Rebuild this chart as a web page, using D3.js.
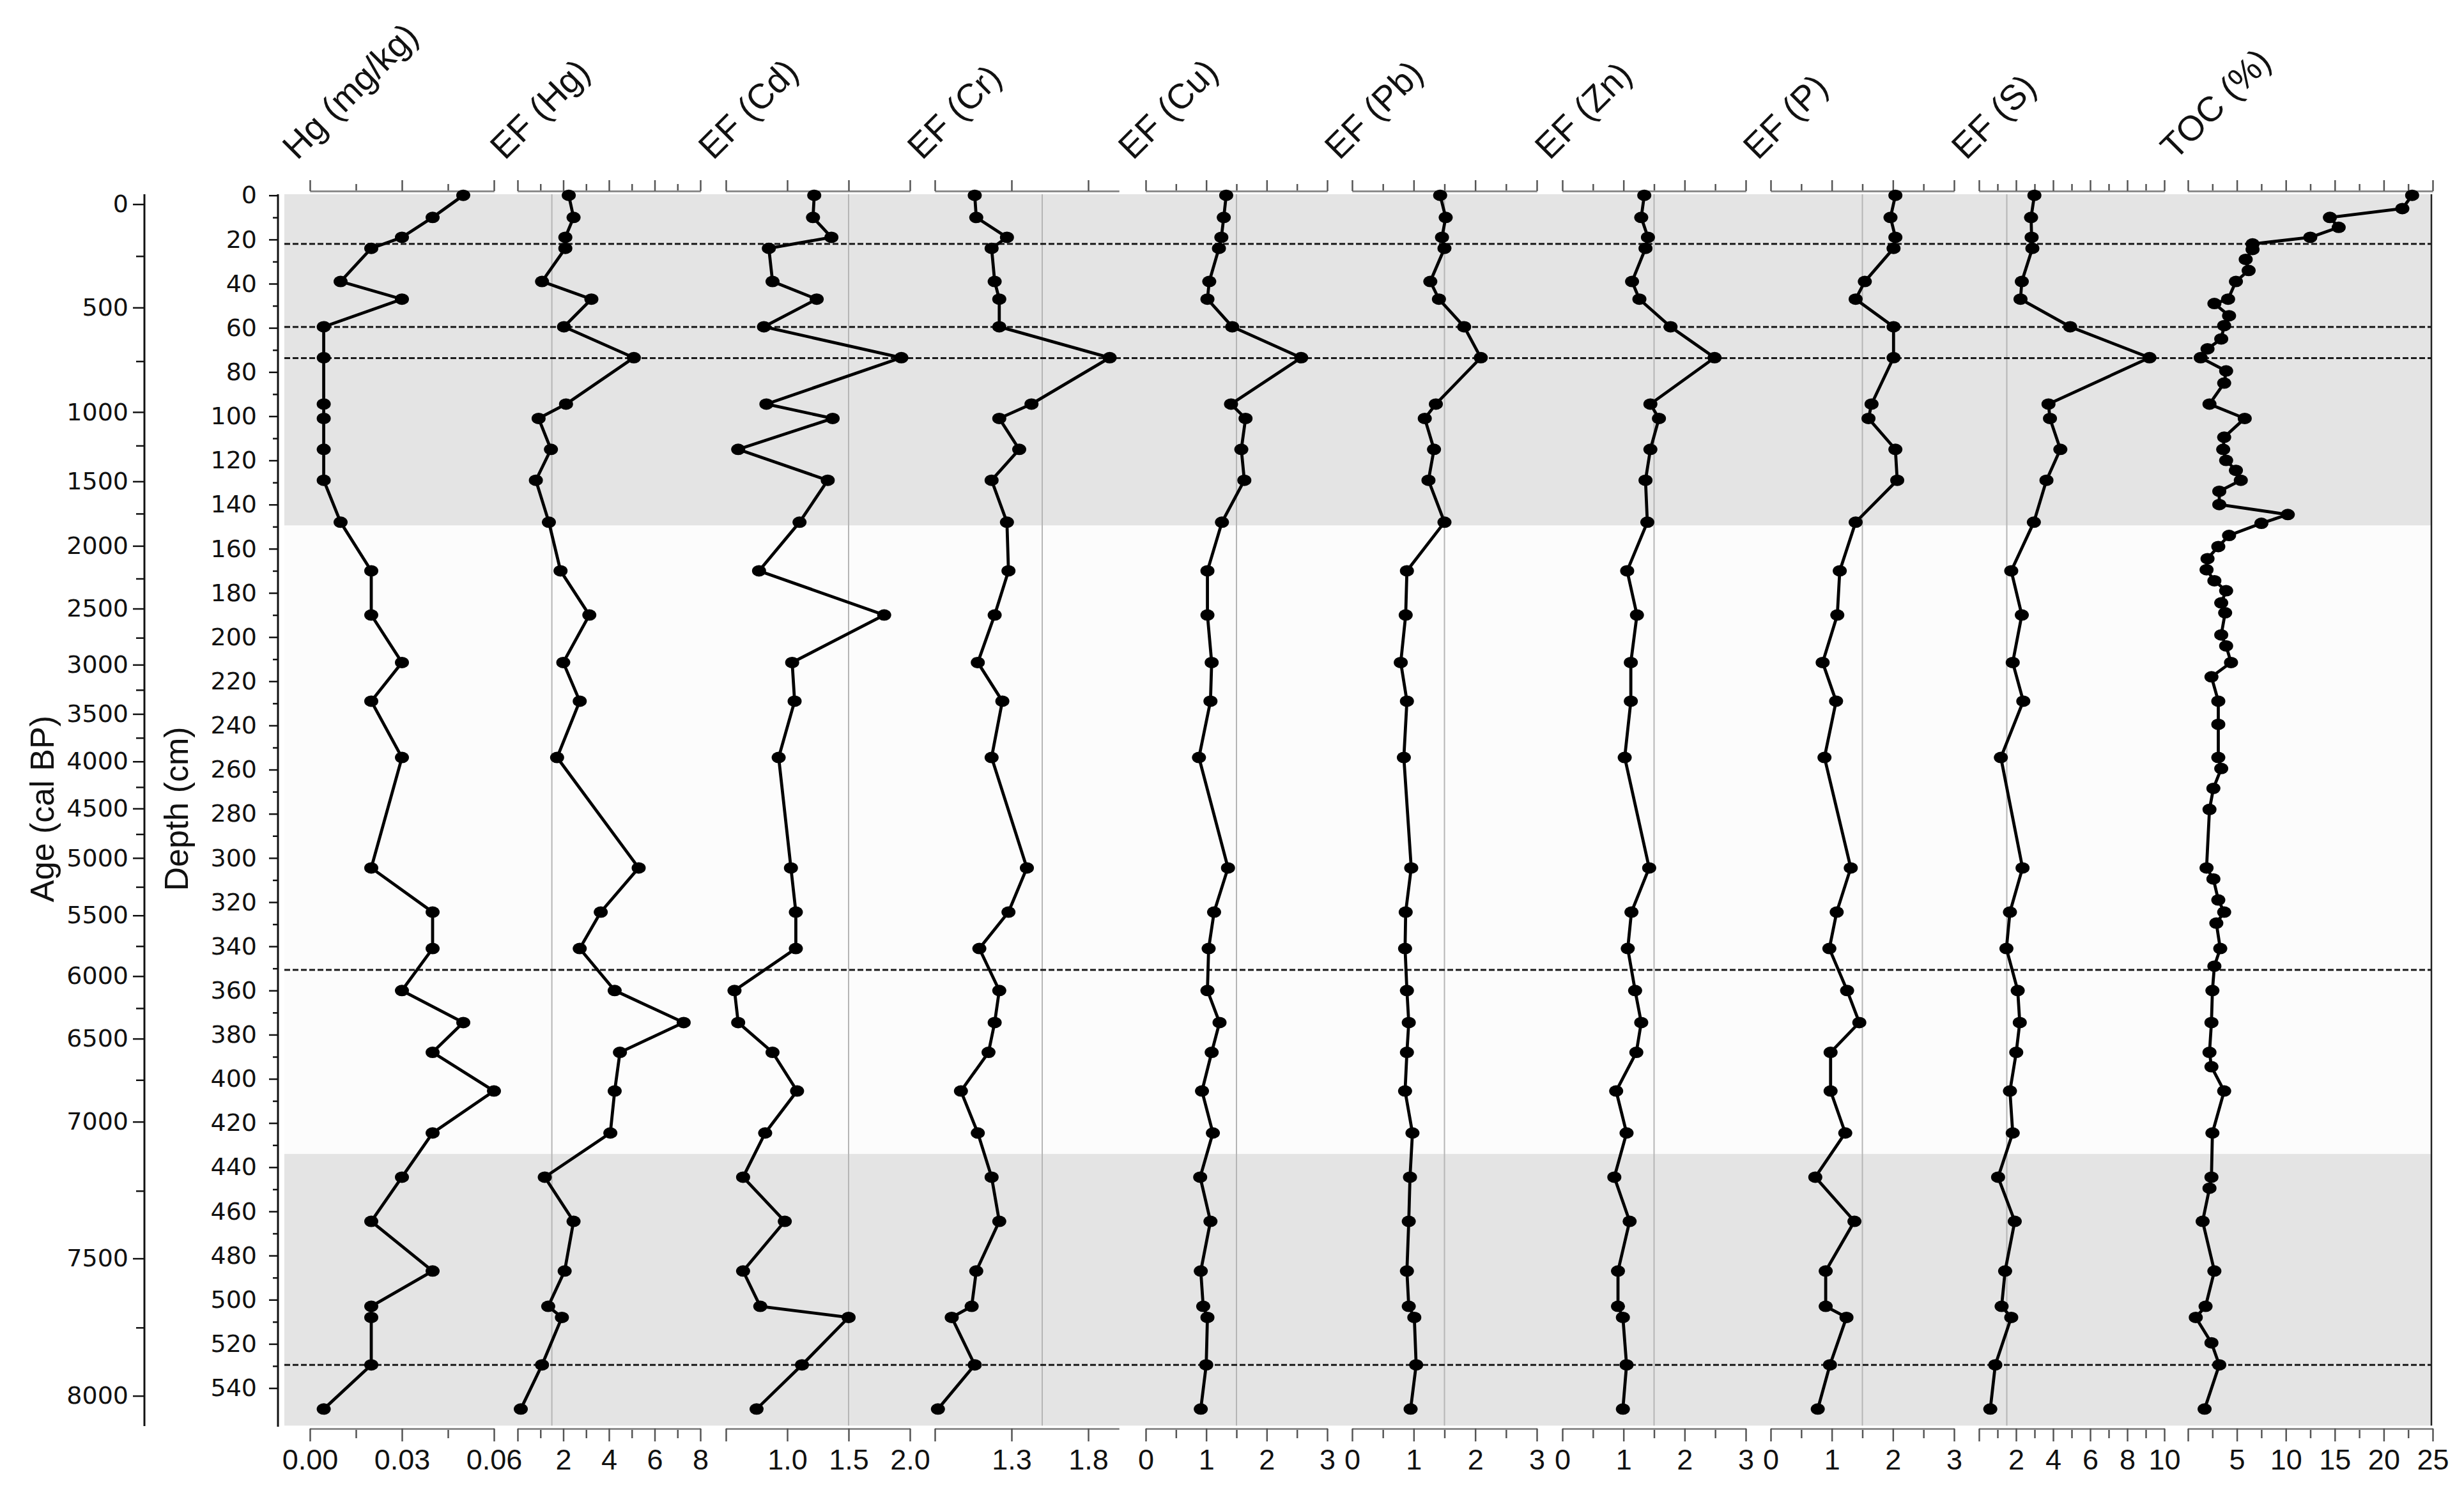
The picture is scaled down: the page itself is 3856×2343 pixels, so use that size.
<!DOCTYPE html>
<html><head><meta charset="utf-8">
<script src="https://cdn.jsdelivr.net/npm/d3@7"></script>
<style>body{margin:0;background:#fff}</style>
</head><body>
<svg id="c" width="3856" height="2343" xmlns="http://www.w3.org/2000/svg"></svg>
<script>
// ---------------- DATA ----------------
const depths = [0,10,19,24,39,47,59.5,73.5,94.5,101,115,129,148,170,190,211.5,229,254.5,304.5,324.5,341,360,374.5,388,405.5,424.5,444.5,464.5,487,503,508,529.5,549.5];
const hg   = [0.05,0.04,0.03,0.02,0.01,0.03,0.0045,0.0045,0.0045,0.0045,0.0045,0.0045,0.01,0.02,0.02,0.03,0.02,0.03,0.02,0.04,0.04,0.03,0.05,0.04,0.06,0.04,0.03,0.02,0.04,0.02,0.02,0.02,0.0045];
const efHg = [2.24,2.45,2.09,2.09,1.07,3.23,2.03,5.09,2.12,0.92,1.46,0.80,1.37,1.88,3.14,2.00,2.72,1.73,5.30,3.64,2.72,4.25,7.27,4.48,4.25,4.06,1.19,2.45,2.06,1.34,1.94,1.07,0.14];
const efCd = [1.22,1.21,1.36,0.85,0.88,1.24,0.81,1.93,0.83,1.37,0.60,1.33,1.10,0.77,1.79,1.04,1.06,0.93,1.03,1.07,1.07,0.57,0.60,0.88,1.08,0.82,0.64,0.98,0.64,0.78,1.50,1.12,0.75];
const efCr = [1.06,1.07,1.27,1.17,1.19,1.22,1.22,1.94,1.43,1.22,1.35,1.17,1.27,1.28,1.19,1.08,1.24,1.17,1.40,1.28,1.09,1.22,1.19,1.15,0.97,1.08,1.17,1.22,1.07,1.04,0.91,1.06,0.82];
const efCu = [1.33,1.29,1.25,1.21,1.05,1.02,1.43,2.57,1.41,1.65,1.58,1.63,1.26,1.02,1.02,1.09,1.07,0.88,1.36,1.13,1.04,1.02,1.22,1.09,0.93,1.11,0.90,1.07,0.91,0.95,1.02,1.00,0.91];
const efPb = [1.43,1.52,1.46,1.50,1.27,1.41,1.82,2.09,1.36,1.18,1.33,1.24,1.50,0.89,0.87,0.79,0.89,0.84,0.96,0.87,0.86,0.89,0.92,0.89,0.86,0.98,0.94,0.92,0.89,0.92,1.01,1.04,0.95];
const efZn = [1.34,1.29,1.40,1.36,1.14,1.26,1.77,2.49,1.44,1.58,1.44,1.36,1.39,1.06,1.22,1.12,1.12,1.02,1.42,1.13,1.07,1.19,1.29,1.21,0.88,1.05,0.85,1.10,0.91,0.91,0.99,1.05,0.99];
const efP  = [2.04,1.96,2.04,2.01,1.54,1.39,2.01,2.01,1.65,1.60,2.04,2.07,1.39,1.13,1.09,0.85,1.07,0.88,1.31,1.08,0.96,1.25,1.45,0.98,0.98,1.22,0.73,1.37,0.90,0.90,1.24,0.97,0.77];
const efS  = [2.99,2.81,2.84,2.88,2.31,2.24,4.92,9.20,3.75,3.83,4.39,3.64,2.96,1.74,2.31,1.82,2.39,1.18,2.35,1.67,1.48,2.09,2.20,2.01,1.67,1.82,1.03,1.93,1.41,1.22,1.74,0.88,0.61];

const tocDepths = [0,6,10,14.5,19,22,24.5,29,34,39,47,49,54.5,59,65,69.5,73.5,79.5,85,94.5,101,109.5,115,120,124.5,129,134,140,144.5,148.5,154,159,164.5,169.5,174.5,179,184.5,189,199,204,211.5,218,229,239.5,254.5,259.5,268.5,278,304.5,309.5,319,324.5,329.5,341,349,360,374.5,388,394.5,405.5,424.5,444.5,449.5,464.5,487,503,508,519.5,529.5,549.5];
const toc = [22.9,21.9,14.5,15.4,12.5,6.6,6.6,5.9,6.2,4.9,4.1,2.7,4.2,3.7,3.4,2.0,1.3,3.9,3.7,2.2,5.8,3.7,3.6,3.9,4.9,5.4,3.2,3.2,10.2,7.5,4.2,3.1,2.0,1.9,2.7,3.9,3.4,3.8,3.4,3.9,4.4,2.4,3.1,3.1,3.1,3.4,2.6,2.2,1.9,2.6,3.1,3.7,2.9,3.3,2.7,2.5,2.4,2.2,2.4,3.7,2.5,2.4,2.2,1.5,2.7,1.8,0.8,2.4,3.2,1.7];

// age-depth correspondence of the age axis ticks (cal BP -> cm)
const ageTicks      = [0,250,500,750,1000,1250,1500,1750,2000,2250,2500,2750,3000,3250,3500,3750,4000,4250,4500,4750,5000,5250,5500,5750,6000,6250,6500,6750,7000,7250,7500,7750,8000];
const ageTickDepths = [4.0,27.5,50.8,75.1,98.1,113.3,129.5,144.1,158.7,173.5,187.1,200.3,212.5,223.9,234.8,245.6,256.3,267.9,277.6,289.2,300.0,313.1,326.0,339.9,353.5,368.0,381.8,400.5,419.4,450.7,481.3,512.6,543.5];
const ageLabels = [0,500,1000,1500,2000,2500,3000,3500,4000,4500,5000,5500,6000,6500,7000,7500,8000];
const depthLabels = d3.range(0, 541, 20);
const depthMinor  = d3.range(10, 541, 20);

// zones (cm) and boundary lines (cm)
const zoneEdges = [-0.5, 149.5, 434, 557];
const boundaryDepths = [22, 59.6, 73.7, 350.7, 529.5];
const efThreshold = 1.5;

const titles = ["Hg (mg/kg)","EF (Hg)","EF (Cd)","EF (Cr)","EF (Cu)","EF (Pb)","EF (Zn)","EF (P)","EF (S)","TOC (%)"];
const domains = [[0,0.06],[0,8],[0.5,2.0],[0.8,2.0],[0,3],[0,3],[0,3],[0,3],[0,10],[0,25]];
const majorTicks = [[0,0.03,0.06],[0,2,4,6,8],[0.5,1,1.5,2],[0.8,1.3,1.8],[0,1,2,3],[0,1,2,3],[0,1,2,3],[0,1,2,3],[0,2,4,6,8,10],[0,5,10,15,20,25]];
const minorTicks = [[0.015,0.045],[1,3,5,7],[],[],[0.5,1.5,2.5],[0.5,1.5,2.5],[0.5,1.5,2.5],[0.5,1.5,2.5],[1,3,5,7,9],[2.5,7.5,12.5,17.5,22.5]];
const tickLabels = [["0.00","0.03","0.06"],["","2","4","6","8"],["","1.0","1.5","2.0"],["","1.3","1.8"],["0","1","2","3"],["0","1","2","3"],["0","1","2","3"],["0","1","2","3"],["","2","4","6","8","10"],["","5","10","15","20","25"]];

// ---------------- LAYOUT ----------------
const svg = d3.select("#c");
const FONT = "'Liberation Sans', Arial, sans-serif";
const panelRanges = [[485,773],[810,1096],[1136,1424],[1463,1751],[1793,2077],[2116,2405],[2445,2732],[2771,3058],[3097,3387],[3424,3807]];
const seriesList = [
  {d: depths, v: hg}, {d: depths, v: efHg}, {d: depths, v: efCd}, {d: depths, v: efCr},
  {d: depths, v: efCu}, {d: depths, v: efPb}, {d: depths, v: efZn}, {d: depths, v: efP},
  {d: depths, v: efS}, {d: tocDepths, v: toc}
];
const isEF = [false,true,true,true,true,true,true,true,true,false];

const plotLeft = 445, plotRight = 3805;
const y = d3.scaleLinear().domain([-0.5, 557]).range([304, 2231.3]);
const topAxisY = 299, bottomAxisY = 2236;

svg.append("rect").attr("width",3856).attr("height",2343).attr("fill","#fff");

// zones
const zoneFill = ["#e4e4e4","#fcfcfc","#e4e4e4"];
svg.append("g").selectAll("rect").data(d3.range(zoneEdges.length-1)).join("rect")
  .attr("x", plotLeft).attr("width", plotRight - plotLeft)
  .attr("y", i => y(zoneEdges[i])).attr("height", i => y(zoneEdges[i+1]) - y(zoneEdges[i]))
  .attr("fill", i => zoneFill[i]);

// right border
svg.append("line").attr("x1",plotRight).attr("x2",plotRight).attr("y1",y(-0.5)).attr("y2",y(557))
  .attr("stroke","#222").attr("stroke-width",2.5);

// per panel
titles.forEach((t, i) => {
  const x = d3.scaleLinear().domain(domains[i]).range(panelRanges[i]);
  const g = svg.append("g");

  if (isEF[i]) {
    g.append("line").attr("x1", x(efThreshold)).attr("x2", x(efThreshold))
      .attr("y1", y(-0.5)).attr("y2", y(557)).attr("stroke","#b5b5b5").attr("stroke-width",2);
  }

  // top axis
  const topMajor = d3.axisTop(x).tickValues(majorTicks[i]).tickSize(17).tickSizeOuter(0).tickFormat("");
  const topMinor = d3.axisTop(x).tickValues(minorTicks[i]).tickSize(11).tickSizeOuter(0).tickFormat("");
  const gt = svg.append("g").attr("transform", `translate(0,${topAxisY})`);
  gt.append("g").call(topMinor);
  gt.append("g").call(topMajor);
  // bottom axis
  const labs = tickLabels[i];
  const botMajor = d3.axisBottom(x).tickValues(majorTicks[i]).tickSize(20).tickSizeOuter(0).tickPadding(12)
    .tickFormat((d, k) => labs[k]);
  const botMinor = d3.axisBottom(x).tickValues(minorTicks[i]).tickSize(15).tickSizeOuter(0).tickFormat("");
  const gb = svg.append("g").attr("transform", `translate(0,${bottomAxisY})`);
  gb.append("g").call(botMinor);
  gb.append("g").call(botMajor);
  [gt, gb].forEach(a => {
    a.selectAll(".domain").attr("stroke","#8c8c8c").attr("stroke-width",3);
    a.selectAll(".tick line").attr("stroke","#555").attr("stroke-width",2.5);
    a.selectAll("text").attr("font-family", FONT).attr("font-size", 45).attr("fill","#111");
  });

  // title
  svg.append("text").attr("transform", `translate(${panelRanges[i][0]-20},252) rotate(-45)`)
    .attr("font-family", FONT).attr("font-size", 55).attr("fill","#111").text(t);
});

// boundary lines
svg.append("g").selectAll("line").data(boundaryDepths).join("line")
  .attr("x1", plotLeft).attr("x2", plotRight).attr("y1", d => y(d)).attr("y2", d => y(d))
  .attr("stroke","#1a1a1a").attr("stroke-width",3).attr("stroke-dasharray","9,4");

// series
titles.forEach((t, i) => {
  const x = d3.scaleLinear().domain(domains[i]).range(panelRanges[i]);
  const s = seriesList[i];
  const pts = s.d.map((d, k) => [d, s.v[k]]);
  const line = d3.line().x(p => x(p[1])).y(p => y(p[0]));
  svg.append("path").attr("d", line(pts)).attr("fill","none").attr("stroke","#000").attr("stroke-width",4.8)
    .attr("stroke-linejoin","round");
  svg.append("g").selectAll("ellipse").data(pts).join("ellipse")
    .attr("cx", p => x(p[1])).attr("cy", p => y(p[0])).attr("rx", 11).attr("ry", 9).attr("fill","#000");
});

// depth axis
const dAxis = svg.append("g").attr("transform","translate(435,0)");
dAxis.append("g").call(d3.axisLeft(y).tickValues(depthMinor).tickSize(8).tickFormat(""));
dAxis.append("g").call(d3.axisLeft(y).tickValues(depthLabels).tickSize(14).tickPadding(19));
dAxis.selectAll(".domain").remove();
dAxis.append("line").attr("x1",0).attr("x2",0).attr("y1",304).attr("y2",2233).attr("stroke","#111").attr("stroke-width",3);
dAxis.selectAll(".tick line").attr("stroke","#111").attr("stroke-width",2.5);
dAxis.selectAll("text").attr("font-family","'DejaVu Sans', sans-serif").attr("font-size",38).attr("fill","#111");

// age axis
const ageY = d3.scaleLinear().domain(ageTicks).range(ageTickDepths.map(y));
const ageMinor = ageTicks.filter(a => !ageLabels.includes(a));
const aAxis = svg.append("g").attr("transform","translate(226,0)");
aAxis.append("g").call(d3.axisLeft(ageY).tickValues(ageMinor).tickSize(13).tickFormat(""));
aAxis.append("g").call(d3.axisLeft(ageY).tickValues(ageLabels).tickSize(18).tickPadding(7).tickFormat(d3.format("d")));
aAxis.selectAll(".domain").remove();
aAxis.append("line").attr("x1",0).attr("x2",0).attr("y1",304).attr("y2",2232).attr("stroke","#111").attr("stroke-width",3);
aAxis.selectAll(".tick line").attr("stroke","#111").attr("stroke-width",2.5);
aAxis.selectAll("text").attr("font-family","'DejaVu Sans', sans-serif").attr("font-size",38).attr("fill","#111");

// axis titles
svg.append("text").attr("transform","translate(84,1266) rotate(-90)").attr("text-anchor","middle")
  .attr("font-family", FONT).attr("font-size", 52).attr("fill","#111").text("Age (cal BP)");
svg.append("text").attr("transform","translate(294,1266) rotate(-90)").attr("text-anchor","middle")
  .attr("font-family", FONT).attr("font-size", 52).attr("fill","#111").text("Depth (cm)");
</script>
</body></html>
